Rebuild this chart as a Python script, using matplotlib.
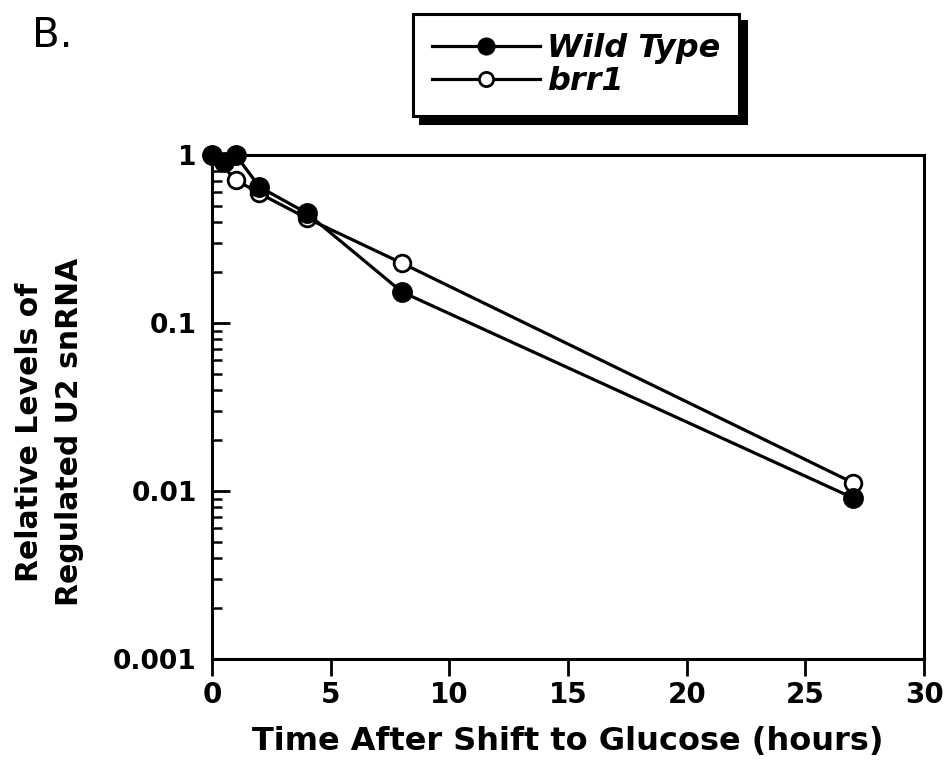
import matplotlib
matplotlib.use("Agg")
import matplotlib.pyplot as plt
from matplotlib.ticker import LogLocator, NullFormatter

# =========================
# Data
# =========================
wt_hours = [0, 0.5, 1, 2, 4, 8, 27]
wt_levels = [1.0, 0.91, 1.0, 0.645, 0.45, 0.153, 0.0091]

brr1_hours = [0, 1, 2, 4, 8, 27]
brr1_levels = [1.0, 0.71, 0.59, 0.42, 0.227, 0.0112]

x_ticks = [0, 5, 10, 15, 20, 25, 30]
y_ticks = [0.001, 0.01, 0.1, 1]
y_tick_labels = ["0.001", "0.01", "0.1", "1"]

plt.rcParams["font.family"] = ["DejaVu Sans"]
plt.rcParams["font.weight"] = "bold"
plt.rcParams["axes.labelweight"] = "bold"

fig = plt.figure(figsize=(9.52, 7.66), dpi=100)
ax = fig.add_axes([0.2227, 0.1397, 0.748, 0.658])

ax.plot(wt_hours, wt_levels, color="black", lw=2.3, marker="o", ms=13,
        mfc="black", mec="black", mew=2, label="Wild Type", zorder=3,
        clip_on=False)
ax.plot(brr1_hours, brr1_levels, color="black", lw=2.3, marker="o", ms=12,
        mfc="white", mec="black", mew=2, label="brr1", zorder=2,
        clip_on=False)

ax.set_yscale("log")
ax.set_xlim(0, 30)
ax.set_ylim(0.001, 1)
ax.set_xticks(x_ticks)
ax.set_yticks(y_ticks)
ax.set_yticklabels(y_tick_labels)
ax.yaxis.set_minor_locator(LogLocator(base=10, subs=range(2, 10)))
ax.yaxis.set_minor_formatter(NullFormatter())

for s in ax.spines.values():
    s.set_linewidth(2.2)

ax.tick_params(axis="x", direction="out", length=12, width=2, pad=4, labelsize=20)
ax.tick_params(axis="y", which="major", direction="in", length=13, width=2,
               pad=11, labelsize=19)
ax.tick_params(axis="y", which="minor", direction="in", length=7, width=1.8)

ax.set_xlabel("Time After Shift to Glucose (hours)", fontsize=23, labelpad=12)
ax.set_ylabel("Relative Levels of\nRegulated U2 snRNA", fontsize=21.5,
              linespacing=1.45)
ax.yaxis.set_label_coords(-0.18, 0.45)

fig.text(32 / 952, 1 - 47 / 766, "B.", fontsize=29, fontweight="normal",
         va="baseline")

leg = fig.legend(loc="center", bbox_to_anchor=(0.605, 0.915),
                 prop={"style": "italic", "size": 23, "weight": "bold"},
                 frameon=True, fancybox=False, handlelength=3.4,
                 borderpad=0.6, labelspacing=0.05, handletextpad=0.2,
                 markerscale=0.85,
                 shadow={"color": "black", "ox": 5, "oy": -5, "alpha": 1})
leg.get_frame().set_edgecolor("black")
leg.get_frame().set_linewidth(2.2)

fig.savefig("out.png", dpi=100)
